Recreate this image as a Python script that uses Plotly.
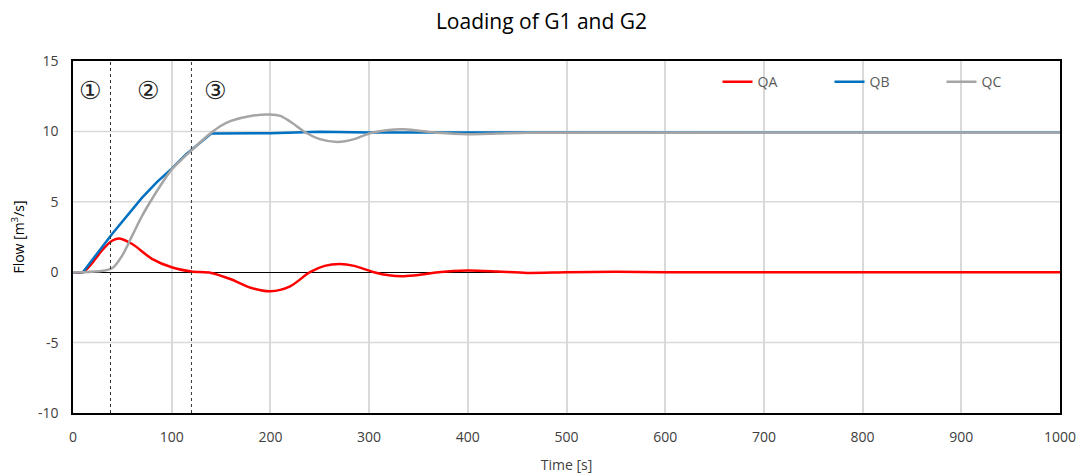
import plotly.graph_objects as go

# ---- data ----
t_qa = [0, 10, 20, 30, 40, 47, 60, 80, 100, 120, 140, 160, 180, 200, 220, 240, 255, 270, 285,
        305, 320, 335, 350, 370, 400, 430, 460, 500, 550, 600, 1000]
qa = [0, 0, 0.7, 1.6, 2.25, 2.4, 2.0, 0.95, 0.35, 0.05, -0.05, -0.5, -1.1, -1.35, -1.0, 0.0,
      0.45, 0.58, 0.45, 0.0, -0.22, -0.28, -0.2, 0.0, 0.12, 0.05, -0.05, 0.0, 0.03, 0.0, 0.0]

t_qb = [0, 10, 40, 55, 70, 85, 100, 115, 120, 130, 140, 200, 250, 300, 400, 500, 1000]
qb = [0, 0, 2.75, 4.05, 5.3, 6.4, 7.35, 8.4, 8.7, 9.25, 9.85, 9.87, 9.97, 9.93, 9.92, 9.9, 9.9]

t_qc = [0, 10, 30, 40, 50, 60, 70, 80, 90, 100, 110, 120, 130, 140, 150, 160, 180, 200, 210,
        220, 237, 250, 268, 285, 301, 320, 334, 350, 370, 400, 430, 460, 500, 1000]
qc = [0, 0, 0.1, 0.3, 1.2, 2.6, 4.0, 5.2, 6.3, 7.3, 8.0, 8.65, 9.3, 9.9, 10.4, 10.75, 11.1,
      11.2, 11.1, 10.7, 9.87, 9.45, 9.25, 9.45, 9.87, 10.1, 10.15, 10.05, 9.9, 9.8, 9.85, 9.9,
      9.9, 9.9]

phase_bounds = [38, 120]
phase_labels = ["①", "②", "③"]
phase_label_x = [17, 76, 144]
phase_label_y = 12.9

x_ticks = list(range(0, 1001, 100))
y_ticks = [-10, -5, 0, 5, 10, 15]
y_tick_text = ["-10", "-5", "0", "5", "10", "15"]

FONT = "Open Sans"
fig = go.Figure()
fig.add_trace(go.Scatter(x=t_qa, y=qa, name="QA", mode="lines",
                         line=dict(color="#FF0000", width=2.5, shape="spline", smoothing=0.8)))
fig.add_trace(go.Scatter(x=t_qb, y=qb, name="QB", mode="lines",
                         line=dict(color="#0070C0", width=2.5)))
fig.add_trace(go.Scatter(x=t_qc, y=qc, name="QC", mode="lines",
                         line=dict(color="#A5A5A5", width=2.5, shape="spline", smoothing=0.8)))

for xb in phase_bounds:
    fig.add_shape(type="line", x0=xb, x1=xb, y0=-10, y1=15, xref="x", yref="y",
                  line=dict(color="#333333", width=1, dash="dot"))

for lab, lx in zip(phase_labels, phase_label_x):
    fig.add_annotation(x=lx, y=phase_label_y, text=lab, showarrow=False,
                       font=dict(family="DejaVu Sans", size=25, color="#222222"))

# horizontal gridlines at +-5, 10 (Excel-like, light gray)
for yv in [-5, 5, 10]:
    fig.add_shape(type="line", x0=0, x1=1000, y0=yv, y1=yv, xref="x", yref="y", layer="below",
                  line=dict(color="#D9D9D9", width=1.5))

fig.update_layout(
    width=1083, height=476,
    margin=dict(l=73, r=23, t=61, b=63, autoexpand=False),
    paper_bgcolor="white", plot_bgcolor="white",
    title=dict(text="Loading of G1 and G2", x=0.5, xanchor="center", y=0.955, yanchor="middle",
               font=dict(family=FONT, size=21, color="#000000")),
    font=dict(family=FONT, size=14, color="#404040"),
    legend=dict(orientation="h", x=0.653, y=0.94, xanchor="left", yanchor="middle",
                bgcolor="rgba(0,0,0,0)", entrywidth=67, entrywidthmode="pixels",
                font=dict(family=FONT, size=14, color="#595959")),
    showlegend=True,
)
fig.update_xaxes(range=[0, 1000], tickvals=x_ticks, showgrid=True, gridcolor="#D9D9D9",
                 gridwidth=1.5, zeroline=False, showline=True, linecolor="#000000", linewidth=1.5,
                 mirror=True, ticks="", ticklabelstandoff=10,
                 title=dict(text="Time [s]", standoff=16,
                            font=dict(family=FONT, size=14, color="#404040")))
fig.update_yaxes(range=[-10, 15], tickvals=y_ticks, ticktext=y_tick_text, showgrid=False,
                 zeroline=True, zerolinecolor="#000000", zerolinewidth=1.2, showline=True,
                 linecolor="#000000", linewidth=1.5, mirror=True, ticks="", ticklabelstandoff=10,
                 title=dict(text="Flow [m<sup>3</sup>/s]", standoff=10,
                            font=dict(family=FONT, size=14, color="#000000")))

fig.write_html("out.html")
